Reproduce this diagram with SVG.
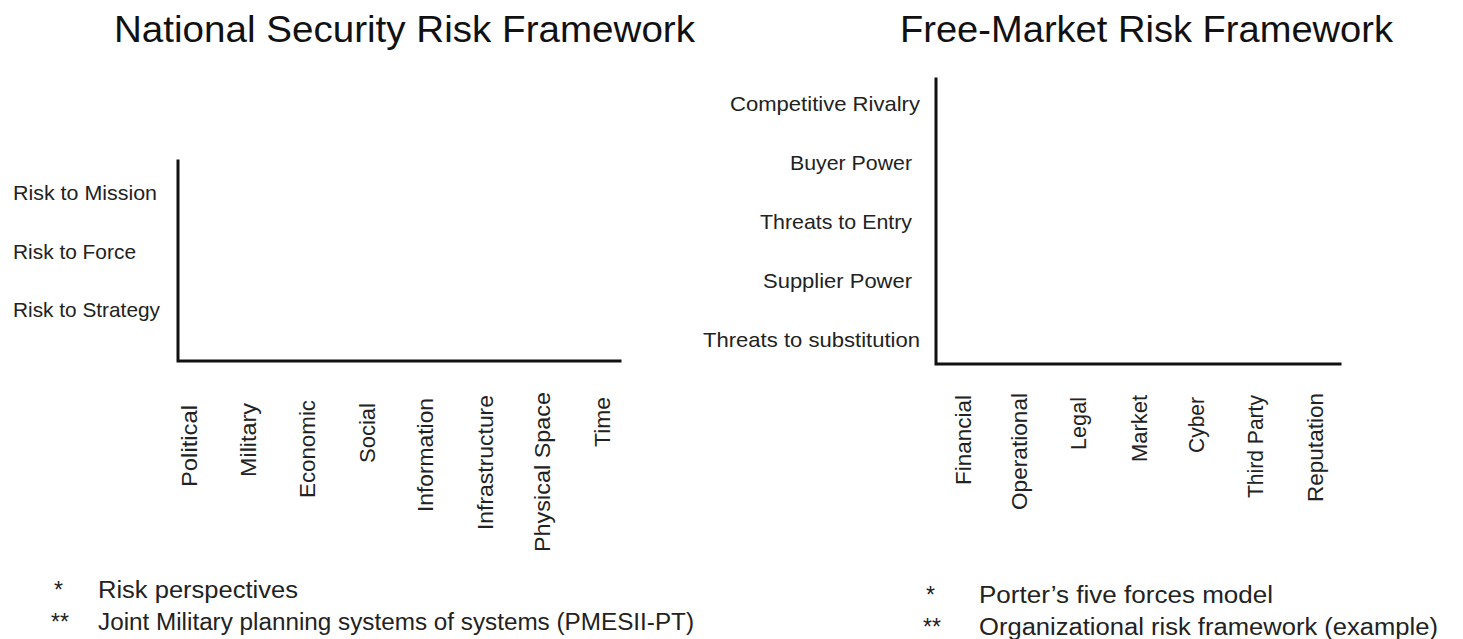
<svg xmlns="http://www.w3.org/2000/svg" width="1463" height="639" viewBox="0 0 1463 639">
  <style>
    text { font-family: "Liberation Sans", Arial, sans-serif; fill: #222; }
    .title { font-size: 36px; fill: #111; }
    .ylab { font-size: 21px; }
    .xlab { font-size: 22px; }
    .note { font-size: 23px; }
    .axis { stroke: #111; stroke-width: 3; fill: none; stroke-linecap: square; }
  </style>
  <rect width="1463" height="639" fill="#ffffff"/>

  <!-- Left panel: national security framework -->
  <g id="national-security">
    <text class="title" x="114" y="42" textLength="581" lengthAdjust="spacingAndGlyphs">National Security Risk Framework</text>
    <g id="ns-risk-levels">
      <text class="ylab" x="13" y="199.5" textLength="144" lengthAdjust="spacingAndGlyphs">Risk to Mission</text>
      <text class="ylab" x="13" y="258.5" textLength="123" lengthAdjust="spacingAndGlyphs">Risk to Force</text>
      <text class="ylab" x="13" y="317" textLength="147" lengthAdjust="spacingAndGlyphs">Risk to Strategy</text>
    </g>
    <g id="ns-domains">
      <text class="xlab" transform="translate(196.5,487) rotate(-90)" textLength="82" lengthAdjust="spacingAndGlyphs">Political</text>
      <text class="xlab" transform="translate(256,477) rotate(-90)" textLength="74" lengthAdjust="spacingAndGlyphs">Military</text>
      <text class="xlab" transform="translate(315,498) rotate(-90)" textLength="98" lengthAdjust="spacingAndGlyphs">Economic</text>
      <text class="xlab" transform="translate(375,463) rotate(-90)" textLength="60" lengthAdjust="spacingAndGlyphs">Social</text>
      <text class="xlab" transform="translate(433,512) rotate(-90)" textLength="114" lengthAdjust="spacingAndGlyphs">Information</text>
      <text class="xlab" transform="translate(493,530) rotate(-90)" textLength="135" lengthAdjust="spacingAndGlyphs">Infrastructure</text>
      <text class="xlab" transform="translate(549.5,552) rotate(-90)" textLength="160" lengthAdjust="spacingAndGlyphs">Physical Space</text>
      <text class="xlab" transform="translate(610,447) rotate(-90)" textLength="50" lengthAdjust="spacingAndGlyphs">Time</text>
    </g>
    <g id="ns-notes">
      <text class="note" x="54" y="598">*</text>
      <text class="note" x="98" y="598" textLength="200" lengthAdjust="spacingAndGlyphs">Risk perspectives</text>
      <text class="note" x="51" y="630">**</text>
      <text class="note" x="98" y="630" textLength="596" lengthAdjust="spacingAndGlyphs">Joint Military planning systems of systems (PMESII-PT)</text>
    </g>
  </g>

  <!-- Right panel: free-market framework -->
  <g id="free-market">
    <text class="title" x="900" y="42" textLength="493" lengthAdjust="spacingAndGlyphs">Free-Market Risk Framework</text>
    <g id="fm-forces">
      <text class="ylab" x="920" y="111" text-anchor="end" textLength="190" lengthAdjust="spacingAndGlyphs">Competitive Rivalry</text>
      <text class="ylab" x="912" y="170" text-anchor="end" textLength="122" lengthAdjust="spacingAndGlyphs">Buyer Power</text>
      <text class="ylab" x="912" y="229" text-anchor="end" textLength="152" lengthAdjust="spacingAndGlyphs">Threats to Entry</text>
      <text class="ylab" x="912" y="288" text-anchor="end" textLength="149" lengthAdjust="spacingAndGlyphs">Supplier Power</text>
      <text class="ylab" x="920" y="347" text-anchor="end" textLength="217" lengthAdjust="spacingAndGlyphs">Threats to substitution</text>
    </g>
    <g id="fm-categories">
      <text class="xlab" transform="translate(971,485) rotate(-90)" textLength="90" lengthAdjust="spacingAndGlyphs">Financial</text>
      <text class="xlab" transform="translate(1027,510) rotate(-90)" textLength="117" lengthAdjust="spacingAndGlyphs">Operational</text>
      <text class="xlab" transform="translate(1086,450) rotate(-90)" textLength="53" lengthAdjust="spacingAndGlyphs">Legal</text>
      <text class="xlab" transform="translate(1147,462) rotate(-90)" textLength="67" lengthAdjust="spacingAndGlyphs">Market</text>
      <text class="xlab" transform="translate(1204,453) rotate(-90)" textLength="56" lengthAdjust="spacingAndGlyphs">Cyber</text>
      <text class="xlab" transform="translate(1263,498) rotate(-90)" textLength="103" lengthAdjust="spacingAndGlyphs">Third Party</text>
      <text class="xlab" transform="translate(1323,502) rotate(-90)" textLength="109" lengthAdjust="spacingAndGlyphs">Reputation</text>
    </g>
    <g id="fm-notes">
      <text class="note" x="926" y="603">*</text>
      <text class="note" x="923" y="635">**</text>
      <text class="note" x="979" y="603" textLength="294" lengthAdjust="spacingAndGlyphs">Porter’s five forces model</text>
      <text class="note" x="979" y="635" textLength="459" lengthAdjust="spacingAndGlyphs">Organizational risk framework (example)</text>
    </g>
  </g>

  <!-- Axes -->
  <g id="axes">
    <path class="axis" d="M178 161 V361 H620"/>
    <path class="axis" d="M936 79 V364 H1340"/>
  </g>
</svg>
